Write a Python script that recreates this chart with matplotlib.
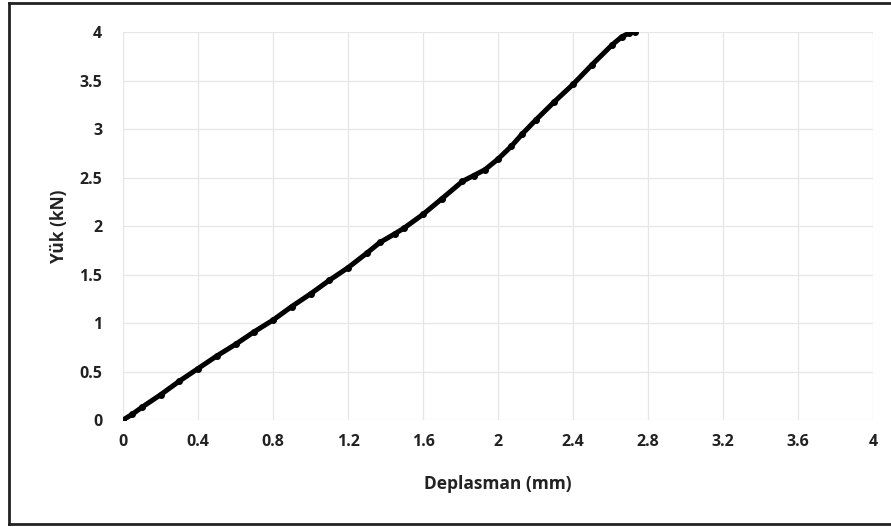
import matplotlib
matplotlib.use("Agg")
import matplotlib.pyplot as plt
from matplotlib.lines import Line2D

# Load-displacement curve
deplasman = [0.0, 0.05, 0.1, 0.2, 0.3, 0.4, 0.5, 0.6, 0.7, 0.8, 0.9, 1.0,
             1.1, 1.2, 1.3, 1.37, 1.45, 1.5, 1.6, 1.7, 1.81, 1.87, 1.93, 2.0,
             2.07, 2.13, 2.2, 2.3, 2.4, 2.5, 2.61, 2.66, 2.7, 2.73]
yuk = [0.0, 0.06, 0.13, 0.26, 0.40, 0.53, 0.66, 0.78, 0.91, 1.03, 1.17, 1.30,
       1.44, 1.57, 1.72, 1.83, 1.92, 1.98, 2.12, 2.28, 2.46, 2.52, 2.58, 2.69,
       2.82, 2.95, 3.09, 3.28, 3.46, 3.66, 3.87, 3.95, 3.99, 4.0]

x_ticks = [0, 0.4, 0.8, 1.2, 1.6, 2, 2.4, 2.8, 3.2, 3.6, 4]
y_ticks = [0, 0.5, 1, 1.5, 2, 2.5, 3, 3.5, 4]

plt.rcParams['font.family'] = ['Open Sans', 'DejaVu Sans']

fig = plt.figure(figsize=(8.91, 5.27), dpi=100)
ax = fig.add_axes([123 / 891, 1 - 420 / 527, 750 / 891, 388 / 527])

ax.plot(deplasman, yuk, color='black', linewidth=3.6, marker='o',
        markersize=4, solid_capstyle='round', zorder=3)

ax.set_xlim(0, 4)
ax.set_ylim(0, 4)
ax.set_xticks(x_ticks)
ax.set_yticks(y_ticks)
ax.set_xticklabels([f"{t:g}" for t in x_ticks], fontsize=11.5, fontweight='bold', color='#222222')
ax.set_yticklabels([f"{t:g}" for t in y_ticks], fontsize=11.5, fontweight='bold', color='#222222')
ax.tick_params(length=0)
ax.tick_params(axis='x', pad=10)
ax.tick_params(axis='y', pad=15)

ax.grid(True, color='#e6e6e6', linewidth=0.9)
ax.set_axisbelow(True)
for s in ax.spines.values():
  s.set_visible(False)

ax.set_xlabel('Deplasman (mm)', fontsize=12.5, fontweight='bold', color='#222222', labelpad=18)
ax.set_ylabel('Yük (kN)', fontsize=12.5, fontweight='bold', color='#222222', labelpad=8)

# scanned page frame (left, top and bottom edges)
W, H = 891, 527
for (x0, y0, x1, y1) in [(9, 3, 9, 524), (9, 3, 891, 3), (9, 524, 891, 524)]:
  fig.add_artist(Line2D([x0 / W, x1 / W], [1 - y0 / H, 1 - y1 / H],
                        transform=fig.transFigure, color='#222222', linewidth=2))

fig.savefig('out.png', dpi=100)
plt.close('all')
